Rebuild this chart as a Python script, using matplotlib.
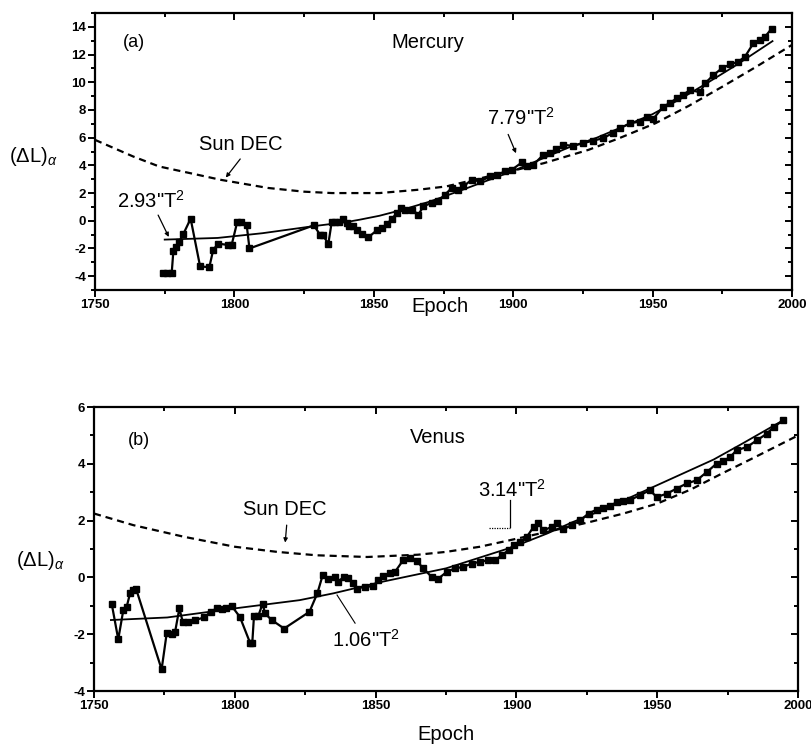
import matplotlib
matplotlib.use("Agg")
import matplotlib.pyplot as plt
from matplotlib.ticker import MultipleLocator

plt.rcParams["font.family"] = ["Liberation Sans", "DejaVu Sans"]
plt.rcParams["mathtext.fontset"] = "custom"
plt.rcParams["mathtext.rm"] = "Liberation Sans"
plt.rcParams["mathtext.it"] = "Liberation Sans:italic"
plt.rcParams["axes.unicode_minus"] = False

# ---------------- Mercury (a) ----------------
mercury_epoch = [1774.5, 1776, 1777.5, 1778.1, 1779, 1780.2, 1781.7, 1784.3, 1787.7, 1791,
                 1792.4, 1794.2, 1797.8, 1799, 1801, 1802.2, 1804.4, 1805.4, 1828.5, 1830.7,
                 1831.7, 1833.7, 1834.9, 1836.1, 1837.6, 1838.8, 1840.3, 1841.2, 1842.6, 1843.8,
                 1845.6, 1848, 1851, 1852.8, 1854.8, 1856.4, 1858.4, 1859.6, 1861.2, 1863.6,
                 1866, 1867.8, 1870.8, 1873.1, 1875.5, 1877.9, 1880.3, 1882.1, 1885.1, 1888.1,
                 1891.7, 1894.1, 1897.1, 1899.5, 1903.1, 1904.8, 1907.2, 1910.8, 1913.2, 1915.5,
                 1918, 1921.5, 1925.1, 1928.7, 1932.3, 1935.9, 1938.3, 1941.9, 1945.5, 1948,
                 1950.2, 1953.8, 1956.2, 1958.6, 1961, 1963.4, 1967, 1968.8, 1971.8, 1974.8,
                 1977.8, 1980.7, 1983.1, 1986.1, 1988.5, 1990.3, 1992.7]
mercury_dl = [-3.8, -3.8, -3.8, -2.2, -1.9, -1.5, -0.95, 0.15, -3.3, -3.35,
              -2.1, -1.65, -1.75, -1.75, -0.1, -0.1, -0.3, -2.0, -0.33, -1.0,
              -1.05, -1.65, -0.1, -0.1, -0.1, 0.1, -0.15, -0.35, -0.4, -0.65,
              -0.95, -1.2, -0.7, -0.55, -0.25, 0.15, 0.55, 0.95, 0.8, 0.8,
              0.45, 1.04, 1.3, 1.4, 1.88, 2.36, 2.24, 2.48, 2.96, 2.84,
              3.2, 3.33, 3.56, 3.68, 4.21, 3.92, 4.04, 4.76, 4.89, 5.15,
              5.48, 5.41, 5.6, 5.79, 5.96, 6.37, 6.68, 7.04, 7.16, 7.5,
              7.35, 8.24, 8.5, 8.84, 9.1, 9.44, 9.28, 9.92, 10.52, 11.0,
              11.29, 11.48, 11.84, 12.8, 13.04, 13.28, 13.88]

mercury_fit_epoch = [1775, 1794, 1810, 1828, 1840, 1845, 1852, 1860, 1870, 1880,
                     1890, 1900, 1910, 1920, 1930, 1938, 1950, 1960, 1970, 1980, 1993]
mercury_fit_dl = [-1.36, -1.24, -0.9, -0.4, -0.1, 0.08, 0.36, 0.78, 1.38, 2.1,
                  2.85, 3.6, 4.45, 5.3, 6.0, 6.68, 7.7, 8.8, 10.0, 11.24, 12.97]

mercury_sun_epoch = [1750, 1763.7, 1773, 1785, 1795, 1812, 1825, 1835, 1852, 1866,
                     1876, 1890, 1900, 1911, 1927, 1938, 1951, 1963, 1975, 1987, 2000]
mercury_sun_dl = [5.84, 4.64, 3.92, 3.4, 2.96, 2.37, 2.1, 2.0, 2.0, 2.24,
                  2.48, 3.15, 3.62, 4.16, 5.12, 5.96, 7.04, 8.3, 9.68, 11.1, 12.7]

# ---------------- Venus (b) ----------------
venus_epoch = [1756.3, 1758.6, 1760.4, 1761.6, 1762.8, 1764, 1764.9, 1774, 1775.8, 1777.6,
               1778.8, 1780.3, 1781.5, 1783.5, 1785.9, 1789.1, 1791.4, 1793.6, 1795.3, 1796.9,
               1798.9, 1801.8, 1805.4, 1806.2, 1806.8, 1808.3, 1809.9, 1810.7, 1813.1, 1817.5,
               1826.5, 1829.3, 1831.2, 1833.2, 1835.6, 1836.8, 1838.6, 1840.3, 1842.1, 1843.3,
               1846.2, 1849.2, 1851, 1852.7, 1855.1, 1856.9, 1859.8, 1862.2, 1864.6, 1866.9,
               1869.9, 1872.3, 1875.3, 1878.2, 1881.2, 1884.1, 1887.1, 1890, 1892.4, 1894.8,
               1897.2, 1899, 1901.3, 1903.7, 1906.1, 1907.8, 1909.6, 1912.6, 1914.3, 1916.7,
               1919.7, 1922.6, 1925.6, 1928.5, 1930.9, 1933.2, 1935.6, 1938, 1940.3, 1943.9,
               1947.4, 1949.8, 1953.4, 1956.9, 1960.5, 1964, 1967.6, 1971.1, 1973.5, 1975.9,
               1978.2, 1981.8, 1985.4, 1988.9, 1991.3, 1994.8]
venus_dl = [-0.94, -2.18, -1.15, -1.03, -0.56, -0.45, -0.39, -3.24, -1.97, -1.99,
            -1.91, -1.09, -1.56, -1.56, -1.5, -1.41, -1.21, -1.09, -1.1, -1.07,
            -1.01, -1.39, -2.3, -2.3, -1.36, -1.36, -0.92, -1.27, -1.5, -1.8,
            -1.21, -0.56, 0.08, -0.04, 0.0, -0.15, 0.02, -0.02, -0.21, -0.39,
            -0.33, -0.31, -0.1, 0.04, 0.14, 0.2, 0.61, 0.67, 0.58, 0.32,
            0.02, -0.04, 0.2, 0.32, 0.37, 0.49, 0.55, 0.61, 0.61, 0.78,
            0.96, 1.14, 1.25, 1.43, 1.78, 1.9, 1.66, 1.78, 1.92, 1.72,
            1.84, 2.01, 2.25, 2.39, 2.43, 2.5, 2.66, 2.7, 2.72, 2.9,
            3.07, 2.83, 2.95, 3.13, 3.31, 3.42, 3.71, 4.01, 4.1, 4.24,
            4.48, 4.59, 4.83, 5.06, 5.3, 5.53]

venus_fit_epoch = [1756, 1776, 1800, 1823, 1835, 1852, 1875, 1899, 1911, 1920,
                   1930, 1940, 1950, 1960, 1970, 1980, 1995]
venus_fit_dl = [-1.5, -1.41, -1.09, -0.8, -0.56, -0.16, 0.32, 1.08, 1.55, 1.95,
                2.35, 2.8, 3.25, 3.7, 4.15, 4.7, 5.55]

venus_sun_epoch = [1750, 1764, 1782, 1800, 1815, 1829, 1847, 1865, 1875, 1887,
                   1899, 1913, 1926, 1938, 1950, 1962, 1973, 1985, 2000]
venus_sun_dl = [2.25, 1.84, 1.43, 1.08, 0.9, 0.78, 0.72, 0.8, 0.9, 1.08,
                1.34, 1.65, 1.95, 2.25, 2.6, 3.1, 3.66, 4.25, 5.0]

mercury_yticks = [-4, -2, 0, 2, 4, 6, 8, 10, 12, 14]
venus_yticks = [-4, -2, 0, 2, 4, 6]
epoch_ticks = [1750, 1800, 1850, 1900, 1950, 2000]

fig = plt.figure(figsize=(8.12, 7.44), dpi=100)
ax_a = fig.add_axes([0.1170, 0.6102, 0.8584, 0.3723])
ax_b = fig.add_axes([0.1158, 0.0712, 0.8670, 0.3817])

label_kw = dict(fontsize=14.5, color="black")


def style_axes(ax, yticks, ylim):
    ax.set_xlim(1750, 2000)
    ax.set_ylim(*ylim)
    ax.set_xticks(epoch_ticks)
    ax.set_yticks(yticks)
    ax.xaxis.set_minor_locator(MultipleLocator(25))
    ax.yaxis.set_minor_locator(MultipleLocator(1))
    for sp in ax.spines.values():
        sp.set_linewidth(1.6)
    ax.tick_params(which="both", direction="out", top=False, right=False,
                   width=1.4, labelsize=9.5, pad=1.5)
    ax.tick_params(which="major", length=5)
    ax.tick_params(which="minor", length=3)
    for lab in ax.get_xticklabels() + ax.get_yticklabels():
        lab.set_fontweight("bold")
    # inward ticks on the top and right edges
    sec = ax.secondary_xaxis("top")
    sec.set_xticks(epoch_ticks)
    sec.xaxis.set_minor_locator(MultipleLocator(25))
    sec.tick_params(which="both", direction="in", labeltop=False, width=1.4)
    sec.tick_params(which="major", length=5)
    sec.tick_params(which="minor", length=3)
    sec.spines["top"].set_visible(False)
    secy = ax.secondary_yaxis("right")
    secy.set_yticks(yticks)
    secy.yaxis.set_minor_locator(MultipleLocator(1))
    secy.tick_params(which="both", direction="in", labelright=False, width=1.4)
    secy.tick_params(which="major", length=5)
    secy.tick_params(which="minor", length=3)
    secy.spines["right"].set_visible(False)


def draw_panel(ax, ep, dl, fep, fdl, sep, sdl):
    ax.plot(sep, sdl, color="black", lw=1.6, ls=(0, (3.2, 2.2)), zorder=2)
    ax.plot(fep, fdl, color="black", lw=1.3, zorder=3)
    ax.plot(ep, dl, color="black", lw=1.6, marker="s", markersize=3.9, zorder=4)


# panel (a)
draw_panel(ax_a, mercury_epoch, mercury_dl, mercury_fit_epoch, mercury_fit_dl,
           mercury_sun_epoch, mercury_sun_dl)
style_axes(ax_a, mercury_yticks, (-5, 15))
ax_a.text(1760, 12.9, "(a)", ha="left", va="center", fontsize=13)
ax_a.text(1869.4, 12.9, "Mercury", ha="center", va="center", **label_kw)
ax_a.text(1802.4, 5.52, "Sun DEC", ha="center", va="center", **label_kw)
ax_a.annotate("", xy=(1796.3, 2.96), xytext=(1802.7, 4.62),
              arrowprops=dict(arrowstyle="-|>", lw=0.9, color="black",
                              mutation_scale=6))
ax_a.text(1770.1, 1.45, '2.93"T$^{2}$', ha="center", va="center", **label_kw)
ax_a.annotate("", xy=(1776.9, -1.35), xytext=(1772.2, 0.59),
              arrowprops=dict(arrowstyle="-|>", lw=0.9, color="black",
                              mutation_scale=6))
ax_a.text(1902.8, 7.43, '7.79"T$^{2}$', ha="center", va="center", **label_kw)
ax_a.annotate("", xy=(1901.4, 4.69), xytext=(1897.8, 6.42),
              arrowprops=dict(arrowstyle="-|>", lw=0.9, color="black",
                              mutation_scale=6))

# panel (b)
draw_panel(ax_b, venus_epoch, venus_dl, venus_fit_epoch, venus_fit_dl,
           venus_sun_epoch, venus_sun_dl)
style_axes(ax_b, venus_yticks, (-4, 6))
ax_b.text(1762.1, 4.83, "(b)", ha="left", va="center", fontsize=13)
ax_b.text(1872.2, 4.93, "Venus", ha="center", va="center", **label_kw)
ax_b.text(1817.8, 2.38, "Sun DEC", ha="center", va="center", **label_kw)
ax_b.annotate("", xy=(1817.8, 1.13), xytext=(1818.5, 1.94),
              arrowprops=dict(arrowstyle="-|>", lw=0.9, color="black",
                              mutation_scale=6))
ax_b.text(1846.6, -2.21, '1.06"T$^{2}$', ha="center", va="center", **label_kw)
ax_b.plot([1842.7, 1836.3], [-1.61, -0.62], color="black", lw=0.8)
ax_b.text(1898.4, 3.07, '3.14"T$^{2}$', ha="center", va="center", **label_kw)
ax_b.plot([1897.7, 1897.7], [2.72, 1.77], color="black", lw=0.9)
ax_b.plot([1890.3, 1897.7], [1.73, 1.73], color="black", lw=0.9, ls=(0, (1, 1)))

# axis titles
fig.text(440 / 812, 1 - 306 / 744, "Epoch", ha="center", va="center", fontsize=14.5)
fig.text(446 / 812, 1 - 734 / 744, "Epoch", ha="center", va="center", fontsize=14.5)
fig.text(33 / 812, 1 - 156 / 744, r"$(\Delta\mathrm{L})_{\alpha}$", ha="center",
         va="center", fontsize=14.5)
fig.text(40 / 812, 1 - 560 / 744, r"$(\Delta\mathrm{L})_{\alpha}$", ha="center",
         va="center", fontsize=14.5)

fig.savefig("out.png", dpi=100)
